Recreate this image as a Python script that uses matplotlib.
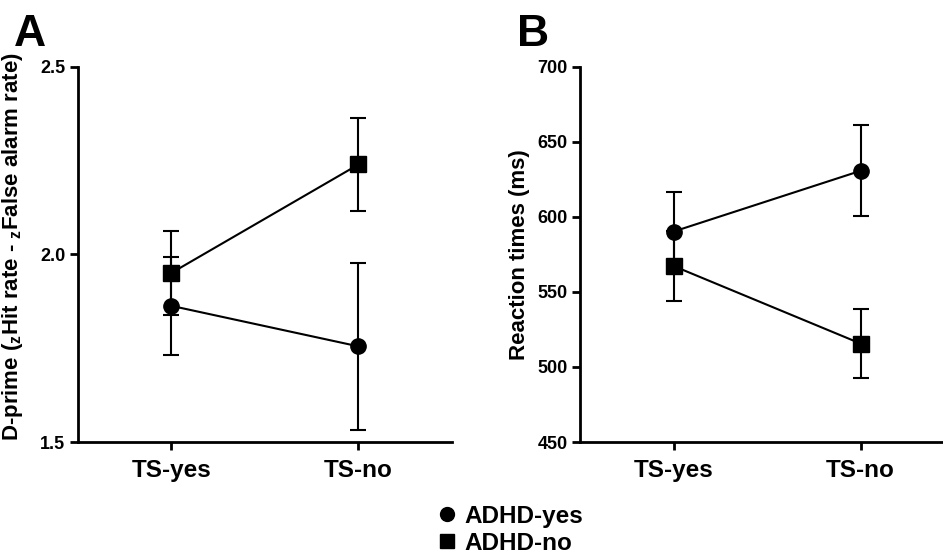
import matplotlib
matplotlib.use('Agg')
import matplotlib.pyplot as plt
from matplotlib.lines import Line2D

plt.rcParams['font.family'] = 'Liberation Sans'
plt.rcParams['font.weight'] = 'bold'
plt.rcParams['mathtext.default'] = 'regular'

conditions = ['TS-yes', 'TS-no']
groups = ['ADHD-yes', 'ADHD-no']
markers = ['o', 's']

# Panel A: d-prime
dprime_mean = {'ADHD-yes': [1.863, 1.755], 'ADHD-no': [1.951, 2.240]}
dprime_err = {'ADHD-yes': [0.130, 0.223], 'ADHD-no': [0.112, 0.124]}

# Panel B: reaction times
rt_mean = {'ADHD-yes': [590.3, 630.8], 'ADHD-no': [567.3, 515.6]}
rt_err = {'ADHD-yes': [26.5, 30.3], 'ADHD-no': [23.4, 23.0]}

fig = plt.figure(figsize=(9.43, 5.55), dpi=100)
axA = fig.add_axes([0.0827, 0.2036, 0.3966, 0.6757])
axB = fig.add_axes([0.6151, 0.2036, 0.3849, 0.6757])

def draw_panel(ax, means, errs):
    x = range(len(conditions))
    for g, m in zip(groups, markers):
        ax.errorbar(x, means[g], yerr=errs[g], marker=m, color='black',
                    markersize=11, linewidth=1.5, elinewidth=1.5,
                    capsize=5.5, capthick=1.5)
    ax.set_xticks(list(x))
    for side in ['top', 'right']:
        ax.spines[side].set_visible(False)
    for side in ['left', 'bottom']:
        ax.spines[side].set_linewidth(2)
    ax.tick_params(width=2, length=6)
    ax.tick_params(axis='y', labelsize=13, pad=3)
    ax.tick_params(axis='x', labelsize=17.5, pad=6)
    ax.set_xticklabels(conditions)

draw_panel(axA, dprime_mean, dprime_err)
axA.set_xlim(-0.5, 1.5)
axA.set_ylim(1.5, 2.5)
axA.set_yticks([1.5, 2.0, 2.5])
axA.set_yticklabels(['1.5', '2.0', '2.5'])
axA.set_ylabel('D-prime ($_z$Hit rate - $_z$False alarm rate)', fontsize=16,
               fontweight='bold', labelpad=2)
axA.yaxis.set_label_coords(-0.142, 0.52)

draw_panel(axB, rt_mean, rt_err)
axB.set_xlim(-0.5, 1.44)
axB.set_ylim(450, 700)
axB.set_yticks([450, 500, 550, 600, 650, 700])
axB.set_ylabel('Reaction times (ms)', fontsize=16, fontweight='bold', labelpad=5)

fig.text(0.015, 0.918, 'A', fontsize=32, fontweight='bold')
fig.text(0.548, 0.918, 'B', fontsize=32, fontweight='bold')

handles = [Line2D([], [], marker=m, color='black', linestyle='none', markersize=10)
           for m in markers]
fig.legend(handles, groups, loc='center', bbox_to_anchor=(0.54, 0.0455),
           frameon=False, fontsize=17.5, handletextpad=0.2, handlelength=1.0,
           labelspacing=0.15, borderpad=0)

fig.savefig('out.png', dpi=100)
